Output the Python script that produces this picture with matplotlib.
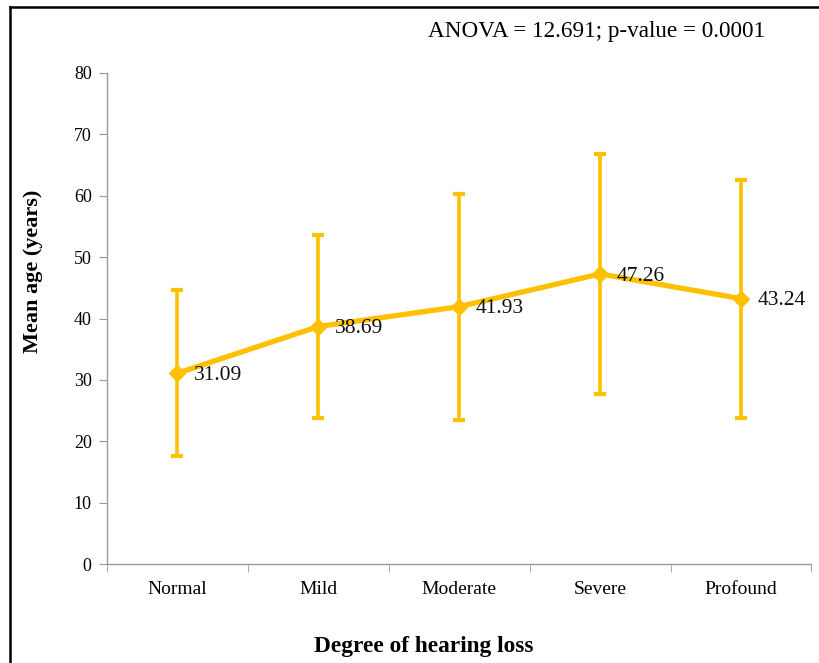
import numpy as np
import matplotlib.pyplot as plt
from matplotlib.lines import Line2D

# Data
categories = ['Normal', 'Mild', 'Moderate', 'Severe', 'Profound']
mean_age = [31.09, 38.69, 41.93, 47.26, 43.24]
sd_age = [13.5, 14.9, 18.4, 19.5, 19.4]
title = 'ANOVA = 12.691; p-value = 0.0001'

plt.rcParams.update({'font.family': 'serif',
                     'font.serif': ['Liberation Serif', 'DejaVu Serif']})

gold = '#FFC000'
gray = '#9a9a9a'

fig = plt.figure(figsize=(8.19, 6.63), dpi=100)
ax = fig.add_axes([0.1306, 0.1493, 0.8602, 0.7406])

x = np.arange(len(categories))
ax.errorbar(x, mean_age, yerr=sd_age, color=gold, ecolor=gold, elinewidth=2.6,
            capsize=4, capthick=3, lw=3.8, marker='D', markersize=8, zorder=3)

for xi, m in zip(x, mean_age):
    ax.annotate(f'{m:.2f}', (xi, m), xytext=(12, -1.5), textcoords='offset points',
                ha='left', va='center', fontsize=15.5, color='#111111', zorder=4)

ax.set_xlim(-0.5, len(categories) - 0.5)
ax.set_ylim(0, 80)
ax.set_yticks(np.arange(0, 81, 10))
ax.set_xticks(x)
ax.set_xticklabels(categories)
ax.set_xticks(np.arange(-0.5, len(categories), 1), minor=True)

for side in ['top', 'right']:
    ax.spines[side].set_visible(False)
for side in ['left', 'bottom']:
    ax.spines[side].set_color(gray)
    ax.spines[side].set_linewidth(1.0)

ax.tick_params(axis='y', length=6, color=gray, labelsize=13, pad=5)
ax.tick_params(axis='x', which='major', length=0, labelsize=14, pad=12)
ax.tick_params(axis='x', which='minor', length=6, color=gray)

ax.set_ylabel('Mean age (years)', fontsize=16, fontweight='bold')
ax.yaxis.set_label_coords(-0.091, 0.597)
ax.set_xlabel('Degree of hearing loss', fontsize=16.8, fontweight='bold')
ax.xaxis.set_label_coords(0.45, -0.147)

fig.text(428 / 819, 1 - 31 / 663, title, ha='left', va='center', fontsize=16.7)

# frame lines at left and top
fig.add_artist(Line2D([10 / 819, 10 / 819], [0, 1 - 7 / 663], transform=fig.transFigure,
                      color='black', lw=1.8))
fig.add_artist(Line2D([10 / 819, 1], [1 - 7 / 663, 1 - 7 / 663], transform=fig.transFigure,
                      color='black', lw=1.8))

plt.savefig('out.png', dpi=100)
